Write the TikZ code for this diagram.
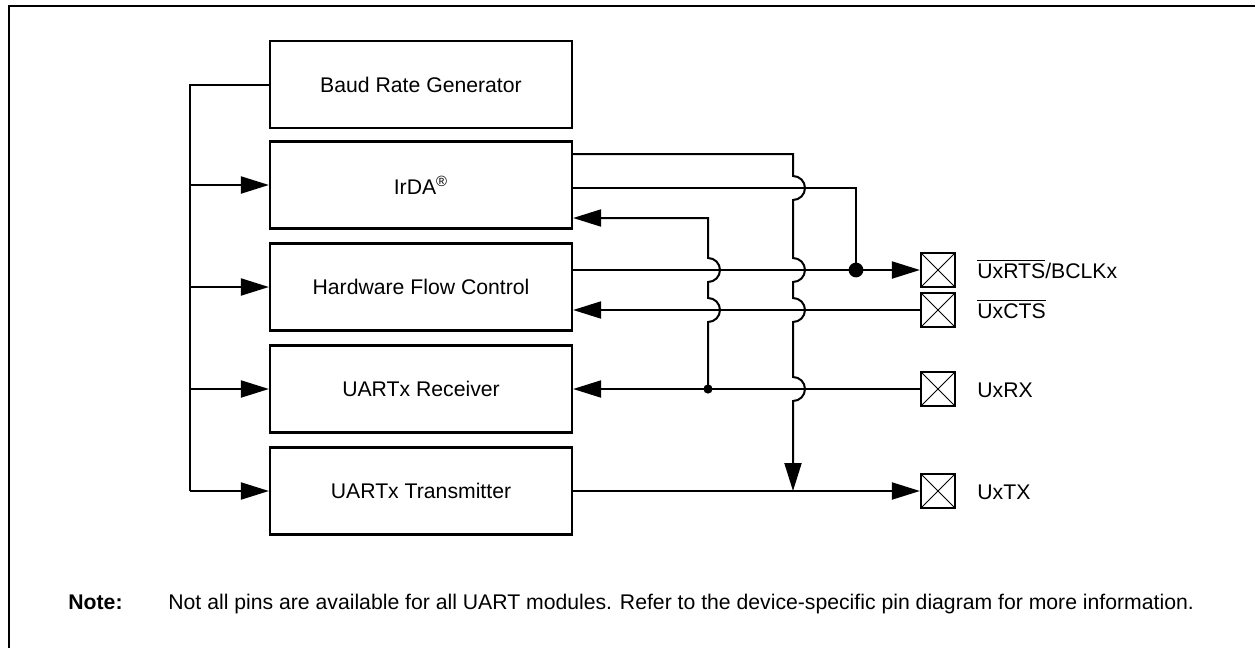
\documentclass[tikz,border=0pt]{standalone}
\usepackage{fontspec}
\setmainfont{Liberation Sans}
\usetikzlibrary{arrows.meta}
\begin{document}
\begin{tikzpicture}[x=0.5pt,y=-0.5pt,
  every node/.style={font=\fontsize{10.6}{12.6}\selectfont},
  blk/.style={draw,line width=1.1pt,minimum width=151pt,minimum height=43.5pt,inner sep=0pt},
  pin/.style={draw,line width=1.1pt,minimum size=17pt,inner sep=0pt,
    path picture={\draw[line width=0.45pt] (path picture bounding box.south west)--(path picture bounding box.north east)
      (path picture bounding box.north west)--(path picture bounding box.south east);}},
  wire/.style={line width=1pt},
  tip/.style={-{Triangle[length=14pt,width=8.5pt]}},
  lbl/.style={anchor=base west,inner sep=0pt},
]
\useasboundingbox (0,0) rectangle (1255,648);
\draw[line width=1.4pt] (1255,6) -- (9,6) -- (9,648);

% blocks
\node[blk] (baud) at (421,84.5) {Baud Rate Generator};
\node[blk] (irda) at (421,185) {IrDA\textsuperscript{®}};
\node[blk] (hfc) at (421,287) {Hardware Flow Control};
\node[blk] (rx) at (421,389) {UARTx Receiver};
\node[blk] (tx) at (421,491) {UARTx Transmitter};

% pins
\node[pin] (pRTS) at (938,270) {};
\node[pin] (pCTS) at (938,310) {};
\node[pin] (pRX) at (938,389) {};
\node[pin] (pTX) at (938,491) {};
\node[lbl] (lRTS) at (977,278) {$\overline{\mbox{UxRTS}}$/BCLKx};
\node[lbl] (lCTS) at (977,318) {$\overline{\mbox{UxCTS}}$};
\node[lbl] (lRX) at (977,397) {UxRX};
\node[lbl] (lTX) at (977,499) {UxTX};

% clock bus
\coordinate (bTop) at (190,84.5);
\coordinate (bBot) at (190,491);
\draw[wire] (baud.west) -- (bTop) -- (bBot);
\draw[wire,tip] (bTop |- irda) -- (irda.west);
\draw[wire,tip] (bTop |- hfc) -- (hfc.west);
\draw[wire,tip] (bTop |- rx) -- (rx.west);
\draw[wire,tip] (bBot) -- (tx.west);

% right side
\coordinate (a1) at (793,154);
\coordinate (a2) at (856,188);
\coordinate (dRTS) at (856,270);
\coordinate (b1) at (708,218);
\coordinate (dRX) at (708,389);
\coordinate (tTX) at (793,491);

\draw[wire] (irda.east |- a2) -- (a2) -- (dRTS);
\draw[wire,tip] (hfc.east |- pRTS) -- (pRTS.west);
\fill (dRTS) circle[radius=3.7pt];
\draw[wire,tip] (pCTS.west) -- (hfc.east |- pCTS);
\draw[wire,tip] (pRX.west) -- (rx.east |- pRX);
\fill (dRX) circle[radius=2.3pt];
\draw[wire,tip] (tx.east) -- (pTX.west);

\draw[wire,tip] (irda.east |- a1) -- (a1) -- (793,176)
  arc[start angle=90,end angle=-90,radius=6pt] -- (793,258)
  arc[start angle=90,end angle=-90,radius=6pt] -- (793,298)
  arc[start angle=90,end angle=-90,radius=6pt] -- (793,377)
  arc[start angle=90,end angle=-90,radius=6pt] -- (tTX);

\draw[wire,tip] (dRX) -- (708,322)
  arc[start angle=-90,end angle=90,radius=6pt] -- (708,282)
  arc[start angle=-90,end angle=90,radius=6pt] -- (b1) -- (irda.east |- b1);

% note
\node[lbl,font=\fontsize{10.6}{12.6}\selectfont\bfseries] (nt) at (68,609) {Note:};
\node[lbl] (ntx) at (168,609) {Not all pins are available for all UART modules. Refer to the device-specific pin diagram for more information.};
\end{tikzpicture}
\end{document}
